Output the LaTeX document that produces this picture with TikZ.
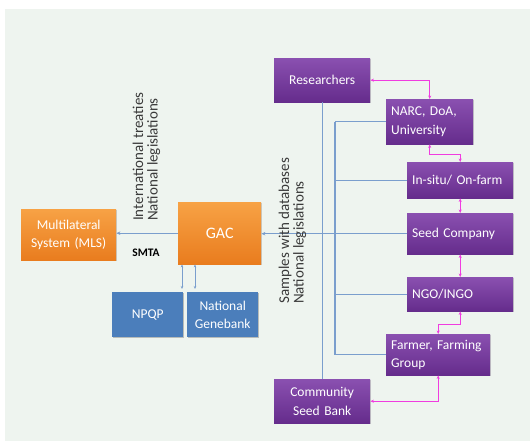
\documentclass[tikz,border=0pt]{standalone}
\usepackage{fontspec}
\setmainfont{Carlito}
\usetikzlibrary{arrows.meta,shadows}
\definecolor{bgc}{HTML}{EEF4EF}
\definecolor{purpT}{HTML}{8A50B0}
\definecolor{purpB}{HTML}{652C8C}
\definecolor{orgT}{HTML}{F7A245}
\definecolor{orgB}{HTML}{E97C1E}
\definecolor{bbox}{HTML}{4B7EBB}
\definecolor{bline}{HTML}{7A9ECD}
\definecolor{mag}{HTML}{F03CE0}
\definecolor{lab}{HTML}{3A3A3A}
\tikzset{
  base/.style={rectangle, anchor=north west, inner xsep=5pt, inner ysep=0pt,
    text=white, font=\fontsize{13.5}{18.5}\selectfont,
    drop shadow={opacity=0.35, shadow xshift=1.2pt, shadow yshift=-1.2pt}},
  pbox/.style={base, top color=purpT, bottom color=purpB},
  obox/.style={base, top color=orgT, bottom color=orgB},
  bbx/.style={base, fill=bbox, drop shadow={opacity=0.2, shadow xshift=1pt, shadow yshift=-1pt}},
  bl/.style={draw=bline, line width=1.1pt},
  blar/.style={bl, -{Stealth[length=4pt,width=3.5pt]}},
  blsm/.style={draw=bline, line width=0.8pt, {Stealth[length=3pt,width=2.5pt]}-{Stealth[length=3pt,width=2.5pt]}},
  mg/.style={draw=mag, line width=1.3pt, {Stealth[length=3.5pt,width=3pt]}-{Stealth[length=3.5pt,width=3pt]}},
  lbl/.style={text=lab, font=\fontsize{15}{14.5}\selectfont, align=left, rotate=90, anchor=west, inner sep=0pt}
}
\begin{document}
\begin{tikzpicture}[x=1pt,y=-1pt]
\useasboundingbox (0,0) rectangle (530,441);
\fill[bgc] (5,9) rectangle (530,441);

% purple nodes
\node[pbox, minimum width=96pt, minimum height=44pt, text width=86pt, align=center] (res) at (274,58) {Researchers};
\node[pbox, minimum width=87pt, minimum height=45pt, text width=77pt, align=left] (narc) at (386,99) {NARC, DoA,\\University};
\node[pbox, minimum width=106pt, minimum height=36pt, text width=96pt, align=left] (insitu) at (407,162) {In-situ/ On-farm};
\node[pbox, minimum width=106pt, minimum height=41pt, text width=96pt, align=left] (seed) at (407,213) {Seed Company};
\node[pbox, minimum width=106pt, minimum height=34pt, text width=96pt, align=left] (ngo) at (407,277) {NGO/INGO};
\node[pbox, minimum width=104pt, minimum height=41pt, text width=94pt, align=left] (farm) at (386,334) {Farmer, Farming\\Group};
\node[pbox, minimum width=96pt, minimum height=44pt, text width=86pt, align=center] (csb) at (274,379) {Community\\Seed Bank};

% orange nodes
\node[obox, minimum width=83pt, minimum height=62pt, text width=73pt, align=center, font=\fontsize{16}{19}\selectfont] (gac) at (178,202) {GAC};
\node[obox, minimum width=95pt, minimum height=51pt, text width=85pt, align=center] (mls) at (21,209) {Multilateral\\System (MLS)};

% blue nodes
\node[bbx, minimum width=71pt, minimum height=45pt, text width=61pt, align=center] (npqp) at (112,292) {NPQP};
\node[bbx, minimum width=71pt, minimum height=45pt, text width=61pt, align=center] (ngb) at (187,292) {National\\Genebank};

% blue connectors
\coordinate (ttop) at (335,121);
\draw[bl] (res.south) -- (csb.north);
\draw[bl] (ttop |- narc.west) -- (ttop |- farm.west);
\draw[bl] (narc.west) -- (ttop |- narc.west);
\draw[bl] (insitu.west) -- (ttop |- insitu.west);
\draw[bl] (ngo.west) -- (ttop |- ngo.west);
\draw[bl] (farm.west) -- (ttop |- farm.west);
\draw[blar] (seed.west) -- (gac.east |- seed.west);
\draw[blar] (gac.west) -- (mls.east |- gac.west);
\coordinate (n1) at (182,289);
\coordinate (n2) at (195,289);
\draw[blsm] (gac.south -| n1) -- (n1);
\draw[blsm] (gac.south -| n2) -- (n2);

% magenta connectors
\draw[mg] (res.east) -| (narc.north);
\draw[mg] (narc.south) -- ++(0,10) -| (insitu.north);
\draw[mg] (insitu.south) -- (seed.north);
\draw[mg] (seed.south) -- (ngo.north);
\draw[mg] (ngo.south) -- ++(0,13) -| (farm.north);
\draw[mg] (farm.south) |- (csb.east);

% labels
\node[lbl] (treat) at (146.5,221) {International treaties\\National legislations};
\node[lbl] (samp) at (292.5,304) {Samples with databases\\National legislations};
\node[text=black, font=\bfseries\fontsize{11.5}{13}\selectfont] (smta) at (146,253) {SMTA};
\end{tikzpicture}
\end{document}
